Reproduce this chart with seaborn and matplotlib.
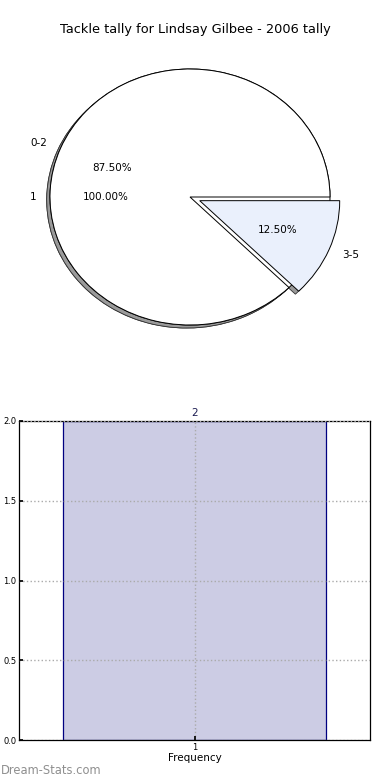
import matplotlib
matplotlib.use("Agg")
import matplotlib.pyplot as plt
import seaborn as sns
import pandas as pd

# ---- data ----
title = "Tackle tally for Lindsay Gilbee - 2006 tally"
pie1_labels = ["1"]
pie1_values = [1]
pie2_labels = ["0-2", "3-5"]
pie2_values = [7, 1]
pie2_colors = ["#FFFFFF", "#EAF0FC"]
bar_categories = ["1"]
bar_values = [2]
yticks = [0.0, 0.5, 1.0, 1.5, 2.0]

sns.set_theme(style="white")
plt.rcParams['font.family'] = ['DejaVu Sans']
plt.rcParams['text.color'] = 'black'
plt.rcParams['xtick.color'] = 'black'
plt.rcParams['ytick.color'] = 'black'
plt.rcParams['axes.labelcolor'] = 'black'

fig = plt.figure(figsize=(3.9, 7.8), dpi=100)

# ---- pie ----
ax1 = fig.add_axes([15/390, 1-357/780, 350/390, 320/780])
wp = dict(edgecolor="black", linewidth=0.7)
shadow = dict(ox=-0.017, oy=-0.017, facecolor="#9a9a9a", edgecolor="#333333",
              linewidth=0.6, alpha=1)
w1, t1, a1 = ax1.pie(pie1_values, labels=pie1_labels, colors=["#FFFFFF"],
                     autopct="%.2f%%", shadow=shadow, wedgeprops=wp,
                     textprops=dict(fontsize=7.5), labeldistance=1.1, pctdistance=0.6)
w2, t2, a2 = ax1.pie(pie2_values, labels=pie2_labels, colors=pie2_colors,
                     explode=[0, 0.075], autopct="%.2f%%", shadow=shadow, wedgeprops=wp,
                     textprops=dict(fontsize=7.5), labeldistance=1.1, pctdistance=0.6)
ax1.set_aspect("auto")
ax1.set_xlim(-1.25, 1.25)
ax1.set_ylim(-1.25, 1.25)
ax1.axis("off")
fig.text(0.5, 1-30/780, title, ha="center", va="center", fontsize=9.3)

# ---- bar ----
ax2 = fig.add_axes([19/390, 1-740/780, 351/390, 319/780])
df = pd.DataFrame({"cat": bar_categories, "val": bar_values})
sns.barplot(data=df, x="cat", y="val", ax=ax2, color="#CCCCE4", saturation=1,
            edgecolor="#000080", linewidth=0.9, width=0.75)
ax2.set_xlim(-0.5, 0.5)
ax2.set_ylim(0, 2.0)
ax2.set_yticks(yticks)
ax2.set_yticklabels([f"{v:.1f}" for v in yticks])
ax2.bar_label(ax2.containers[0], labels=[str(v) for v in bar_values], padding=2,
              fontsize=7.5, color="#1a1a50")
ax2.set_xlabel("Frequency", fontsize=7.5, labelpad=1)
ax2.set_ylabel("")
ax2.tick_params(axis="both", labelsize=6, length=3, direction="in", pad=2)
ax2.tick_params(axis="y", left=True)
ax2.tick_params(axis="x", bottom=True)
ax2.grid(True, linestyle=":", color="#aaaaaa", linewidth=1)
ax2.set_axisbelow(False)
for s in ax2.spines.values():
    s.set_color("black")
    s.set_linewidth(0.9)

fig.text(0.001, 1-771/780, "Dream-Stats.com", ha="left", va="center", fontsize=8.3,
         color="#8f8f8f")

fig.savefig("out.png", dpi=100)
